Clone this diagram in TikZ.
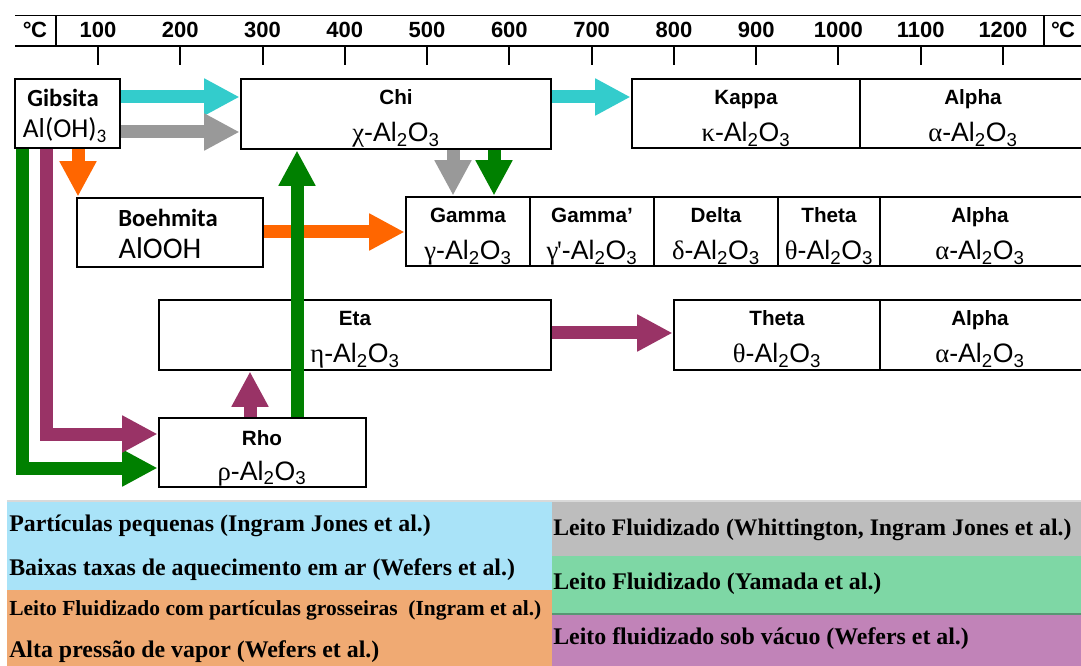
\documentclass[tikz,border=0pt]{standalone}
\usepackage{fontspec}
\setmainfont{Liberation Sans}
\newfontfamily\legfont{Liberation Serif}
\newfontfamily\calfont{Carlito}
\usetikzlibrary{arrows.meta,fit}

\definecolor{acyan}{HTML}{33CCCC}
\definecolor{agray}{HTML}{999999}
\definecolor{aorange}{HTML}{FF6600}
\definecolor{agreen}{HTML}{008000}
\definecolor{apurple}{HTML}{993366}
\definecolor{lcyan}{HTML}{A9E3F8}
\definecolor{lorange}{HTML}{F0AA73}
\definecolor{lgray}{HTML}{BDBDBD}
\definecolor{lgreen}{HTML}{7ED7A5}
\definecolor{lpurple}{HTML}{C183B8}

\tikzset{
  phase/.style={draw=black, line width=2.2pt, inner sep=0pt, fit={#1}},
  cell/.style={draw=black, line width=2.2pt},
  flow/.style={line width=9.75pt, draw=#1,
    -{Triangle[width=26pt,length=26.5pt,fill=#1]}},
  bend/.style={line width=9.75pt, draw=#1, line join=miter,
    -{Triangle[width=26pt,length=26.5pt,fill=#1]}},
  phname/.style={anchor=base, font=\bfseries\fontsize{15.5}{18}\selectfont},
  formula/.style={anchor=base, font=\fontsize{20}{24}\selectfont},
  calname/.style={anchor=base, font=\calfont\bfseries\fontsize{18.5}{22}\selectfont},
  calform/.style={anchor=base, font=\calfont\fontsize{#1}{24}\selectfont},
  scalenum/.style={anchor=base, font=\bfseries\fontsize{16.5}{20}\selectfont},
  legtext/.style={anchor=base west, inner sep=0pt, font=\legfont\bfseries\fontsize{#1}{20}\selectfont},
}

% Greek letter in a serif face, then -Al2O3
\newcommand{\alo}[1]{{\legfont #1}-Al\textsubscript{2}O\textsubscript{3}}

\begin{document}
\begin{tikzpicture}[x=0.75pt,y=-0.75pt]
\clip (0,0) rectangle (1081,666);
\fill[white] (0,0) rectangle (1081,666);

% temperature scale
\draw[line width=1.2pt] (15,15.5) -- (1090,15.5);
\draw[line width=1.2pt] (15,46) -- (1090,46);
\draw[line width=1.2pt] (56,15.5) -- (56,46);
\draw[line width=1.2pt] (1044,15.5) -- (1044,46);
\node[scalenum] (cl) at (35,38) {°\kern-0.5ptC};
\node[scalenum] (cr) at (1063,38) {°\kern-0.5ptC};
\foreach \i in {1,...,12}{
  \pgfmathsetmacro{\tx}{98+82.27*(\i-1)}
  \draw[line width=1.5pt] (\tx,46) -- (\tx,65);
  \node[scalenum] (t\i) at (\tx,38) {\i00};
}

% phase boxes
\node[phase={(15,79) (120,148)}] (gib) {};
\node[phase={(241,79) (551,149)}] (chi) {};
\node[phase={(632,79) (1095,148)}] (kap) {};
\node[phase={(77,198) (263,267)}] (boe) {};
\node[phase={(406,197) (1095,266)}] (gam) {};
\node[phase={(159,300) (551,370)}] (eta) {};
\node[phase={(674,300) (1095,370)}] (the) {};
\node[phase={(159,418) (366,487)}] (rho) {};

% cell dividers
\draw[cell] (860,79) -- (860,148);
\foreach \x in {530,654,778,880} \draw[cell] (\x,197) -- (\x,266);
\draw[cell] (880,300) -- (880,370);

% texts
\node[calname] (gibn) at (63,107) {Gibsita};
\node[calform=20.5] (gibf) at (65,138) {Al(OH)\textsubscript{3}};
\node[calname] (boen) at (168,227) {Boehmita};
\node[calform=22.5] (boef) at (160,259) {AlOOH};

\node[phname] (chin) at (396,105) {Chi};
\node[formula] (chif) at (396,142) {\alo{χ}};
\node[phname] (kapn) at (746,105) {Kappa};
\node[formula] (kapf) at (746,142) {\alo{κ}};
\node[phname] (al1n) at (973,105) {Alpha};
\node[formula] (al1f) at (973,142) {\alo{α}};

\node[phname] (gamn) at (468,223) {Gamma};
\node[formula] (gamf) at (468,260) {\alo{γ}};
\node[phname] (gpn) at (592,223) {Gamma'};
\node[formula] (gpf) at (592,260) {\alo{γ\kern-1pt'}};
\node[phname] (deln) at (716,223) {Delta};
\node[formula] (delf) at (716,260) {\alo{δ}};
\node[phname] (th1n) at (829,223) {Theta};
\node[formula] (th1f) at (829,260) {\alo{θ}};
\node[phname] (al2n) at (980,223) {Alpha};
\node[formula] (al2f) at (980,260) {\alo{α}};

\node[phname] (etan) at (355,326) {Eta};
\node[formula] (etaf) at (355,363) {\alo{η}};
\node[phname] (th2n) at (777,326) {Theta};
\node[formula] (th2f) at (777,363) {\alo{θ}};
\node[phname] (al3n) at (980,326) {Alpha};
\node[formula] (al3f) at (980,363) {\alo{α}};

\node[phname] (rhon) at (262,445) {Rho};
\node[formula] (rhof) at (262,480) {\alo{ρ}};

% transformation arrows
\draw[flow=acyan] (gib.east |- 0,97) -- (chi.west |- 0,97);
\draw[flow=agray] (gib.east |- 0,132) -- (chi.west |- 0,132);
\draw[flow=aorange] (78,0 |- gib.south) -- (78,0 |- boe.north);
\draw[flow=aorange] (boe.east |- 0,232) -- (gam.west |- 0,232);
\draw[flow=acyan] (chi.east |- 0,97) -- (kap.west |- 0,97);
\draw[flow=agray] (453,0 |- chi.south) -- (453,0 |- gam.north);
\draw[flow=agreen] (494,0 |- chi.south) -- (494,0 |- gam.north);
\draw[flow=apurple] (eta.east |- 0,333) -- (the.west |- 0,333);
\draw[flow=agreen] (297,0 |- rho.north) -- (297,0 |- chi.south);
\draw[flow=apurple] (250,0 |- rho.north) -- (250,0 |- eta.south);
\draw[bend=agreen] (22.5,0 |- gib.south) -- (22.5,468) -- (rho.west |- 0,468);
\draw[bend=apurple] (46,0 |- gib.south) -- (46,434) -- (rho.west |- 0,434);

% legend
\fill[lcyan] (7,501) rectangle (552,590);
\fill[lorange] (7,590) rectangle (552,670);
\fill[lgray] (552,501) rectangle (1085,556);
\fill[lgreen] (552,556) rectangle (1085,614);
\draw[lgreen!70!black, line width=1pt] (552,614) -- (1085,614);
\fill[lpurple] (552,614.5) rectangle (1085,670);
\draw[black!15, line width=0.8pt] (7,501) -- (1085,501);

\node[legtext=17.9] (l1) at (9,531) {Partículas pequenas (Ingram Jones et al.)};
\node[legtext=17.9] (l2) at (9,575) {Baixas taxas de aquecimento em ar (Wefers et al.)};
\node[legtext=16.1] (l3) at (9,615) {Leito Fluidizado com partículas grosseiras\ \ (Ingram et al.)};
\node[legtext=17.9] (l4) at (9,657) {Alta pressão de vapor (Wefers et al.)};
\node[legtext=17.8] (r1) at (553,535) {Leito Fluidizado (Whittington, Ingram Jones et al.)};
\node[legtext=17.9] (r2) at (553,589) {Leito Fluidizado (Yamada et al.)};
\node[legtext=17.9] (r3) at (553,644) {Leito fluidizado sob vácuo (Wefers et al.)};
\end{tikzpicture}
\end{document}
